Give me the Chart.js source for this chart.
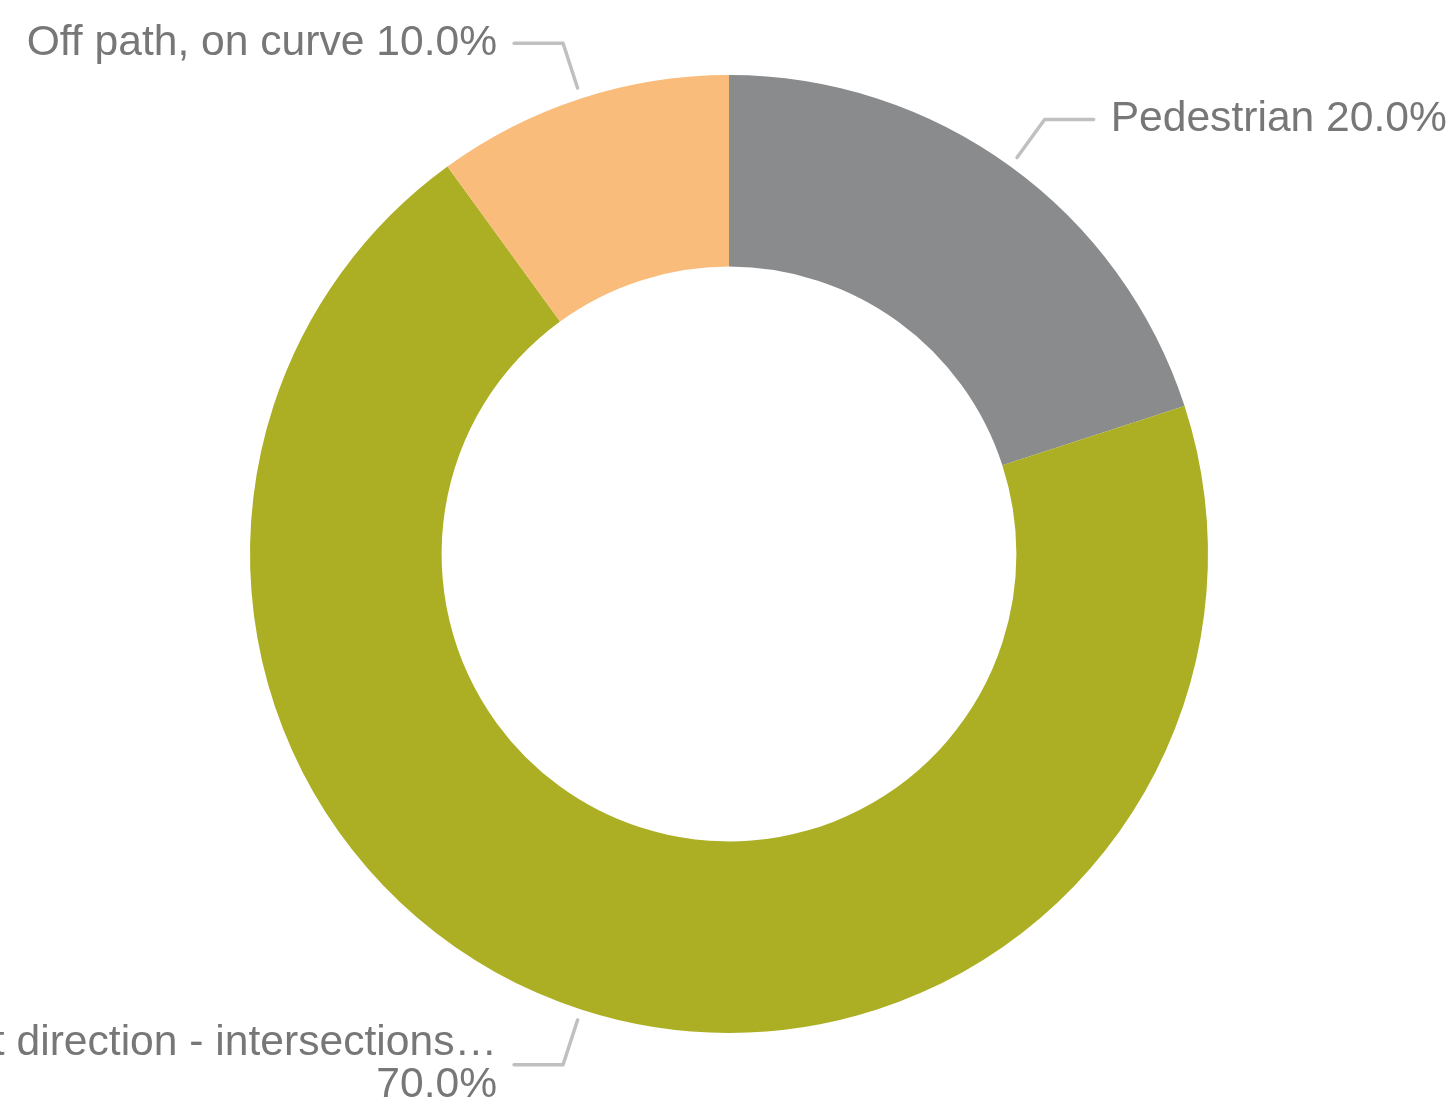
<!DOCTYPE html>
<html>
<head>
<meta charset="utf-8">
<script src="https://cdn.jsdelivr.net/npm/chart.js@4"></script>
<style>
  html, body { margin: 0; padding: 0; background: #fff; }
  #wrap { width: 1455px; height: 1110px; position: relative; }
</style>
</head>
<body>
<div id="wrap"><canvas id="donut"></canvas></div>
<script>
// Chart data
const categories = ['Pedestrian', 'Adjacent direction - intersections', 'Off path, on curve'];
const shortLabels = ['Pedestrian', 'Adjacent direction - intersections…', 'Off path, on curve'];
const shares = [20, 70, 10];
const sliceColors = ['#898b8d', '#acaf23', '#f9bc7a'];

const labelFont = '42.6px "Liberation Sans", Arial, sans-serif';
const labelColor = '#777777';
const leaderColor = '#c0c0c0';

// Draws leader lines + labels outside the ring
const outsideLabels = {
    id: 'outsideLabels',
    afterDatasetsDraw(chart) {
        const ctx = chart.ctx;
        const meta = chart.getDatasetMeta(0);
        const total = shares.reduce((a, b) => a + b, 0);
        ctx.save();
        ctx.font = labelFont;
        ctx.fillStyle = labelColor;
        ctx.strokeStyle = leaderColor;
        ctx.lineWidth = 3.5;
        ctx.lineCap = 'round';
        ctx.lineJoin = 'round';
        ctx.textBaseline = 'middle';
        meta.data.forEach((arc, i) => {
            const p = arc.getProps(['x', 'y', 'startAngle', 'endAngle', 'outerRadius'], true);
            const mid = (p.startAngle + p.endAngle) / 2;
            const cos = Math.cos(mid), sin = Math.sin(mid);
            const r1 = p.outerRadius + 11;
            const r2 = p.outerRadius + 58;
            const x1 = p.x + cos * r1, y1 = p.y + sin * r1;
            const x2 = p.x + cos * r2, y2 = p.y + sin * r2;
            const dir = cos >= 0 ? 1 : -1;
            const x3 = x2 + dir * 49;
            ctx.beginPath();
            ctx.moveTo(x1, y1);
            ctx.lineTo(x2, y2);
            ctx.lineTo(x3, y2);
            ctx.stroke();

            const pct = (shares[i] / total * 100).toFixed(1) + '%';
            const oneLine = shortLabels[i] + ' ' + pct;
            let lines = [oneLine];
            if (ctx.measureText(oneLine).width > 520) {
                lines = [shortLabels[i], pct];
            }
            const tx = x3 + dir * 17;
            ctx.textAlign = dir > 0 ? 'left' : 'right';
            const lh = 42;
            const y0 = y2 - (lines.length - 1) * lh / 2;
            lines.forEach((t, k) => ctx.fillText(t, tx, y0 + k * lh));
        });
        ctx.restore();
    }
};

const ctx = document.getElementById('donut').getContext('2d');
new Chart(ctx, {
    type: 'doughnut',
    data: {
        labels: categories,
        datasets: [{
            data: shares,
            backgroundColor: sliceColors,
            borderWidth: 0
        }]
    },
    options: {
        responsive: true,
        maintainAspectRatio: false,
        animation: false,
        cutout: '60%',
        layout: { padding: { top: 75, bottom: 77, left: 250, right: 247 } },
        plugins: {
            legend: { display: false },
            tooltip: { enabled: false }
        }
    },
    plugins: [outsideLabels]
});
</script>
</body>
</html>
